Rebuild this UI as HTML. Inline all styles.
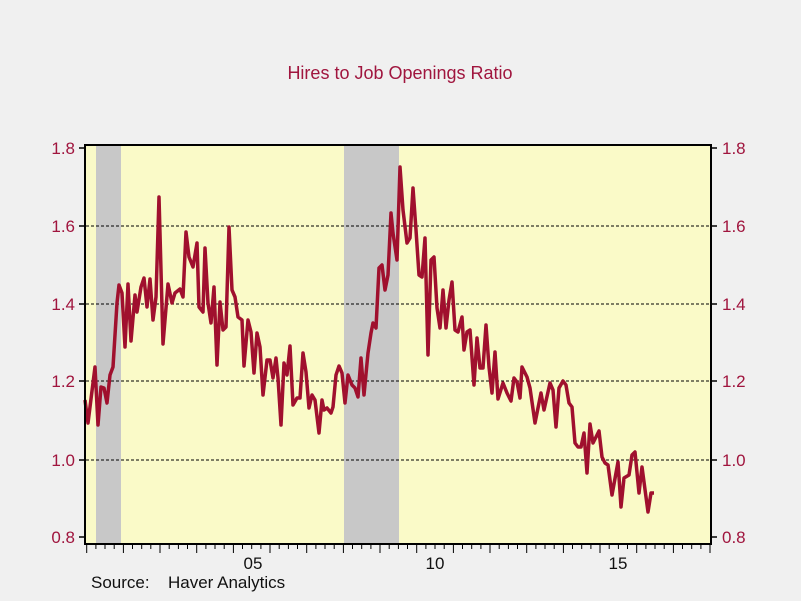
<!DOCTYPE html>
<html><head><meta charset="utf-8"><style>
body{margin:0;background:#f0f0f0}
svg{display:block;font-family:"Liberation Sans",sans-serif}
</style></head><body>
<svg width="801" height="601" viewBox="0 0 801 601">
<rect width="801" height="601" fill="#f0f0f0"/>
<text x="400" y="79" text-anchor="middle" font-size="18" fill="#a0153e">Hires to Job Openings Ratio</text>
<rect x="85" y="145" width="626" height="399" fill="#fafac8"/>
<rect x="96" y="145" width="25" height="399" fill="#c8c8c8"/>
<rect x="344" y="145" width="55" height="399" fill="#c8c8c8"/>
<g stroke="#000" stroke-width="1" stroke-dasharray="3,2">
<line x1="86" x2="710" y1="226" y2="226"/>
<line x1="86" x2="710" y1="304" y2="304"/>
<line x1="86" x2="710" y1="381" y2="381"/>
<line x1="86" x2="710" y1="460" y2="460"/>
</g>
<polyline fill="none" stroke="#a0102e" stroke-width="3.5" stroke-linejoin="round" points="85,400 88,423 95,367 98,425 101,387 104,388 107,403 110,375 113,367 117,303 119,285 122,293 125,347 128,284 131,341 135,295 137,312 141,287 144,278 147,307 150,279 153,320 156,297 159,197 163,344 168,284 172,303 175,293 180,289 183,297 186,232 189,257 193,267 197,243 199,307 203,312 205,248 208,303 211,323 214,287 217,365 220,302 223,330 226,327 229,227 232,290 235,297 238,317 242,320 244,366 248,320 251,332 254,373 257,333 260,347 263,395 267,360 270,360 273,378 276,358 278,378 281,425 284,363 287,375 290,346 293,405 297,398 300,398 303,353 306,372 309,408 312,395 315,400 319,433 322,400 324,410 327,408 331,413 333,407 336,375 339,366 342,373 345,403 348,375 352,385 355,388 358,397 361,358 364,395 368,353 371,333 373,323 376,328 379,268 382,265 385,290 388,275 391,213 393,233 397,260 400,167 403,210 407,243 410,238 413,188 416,230 419,275 422,277 425,238 428,355 431,260 434,257 437,308 440,328 443,290 446,328 449,300 452,282 455,330 458,332 462,317 464,350 467,332 470,330 474,385 477,338 480,368 483,368 486,325 489,367 492,393 495,352 498,399 503,383 507,393 511,401 514,378 517,382 520,398 522,367 527,377 530,388 535,423 541,393 544,410 550,383 553,390 556,427 559,388 563,381 566,385 569,403 572,407 575,443 578,447 581,447 584,433 587,473 590,424 593,443 596,437 599,431 602,457 605,463 608,465 612,495 618,462 621,507 624,478 629,475 632,455 635,452 639,493 642,467 648,512 651,493 654,493"/>
<rect x="85" y="145" width="626" height="399" fill="none" stroke="#000" stroke-width="2"/>
<g stroke="#000" stroke-width="1.5">
<line x1="79" x2="85" y1="148" y2="148"/><line x1="79" x2="85" y1="226" y2="226"/><line x1="79" x2="85" y1="304" y2="304"/><line x1="79" x2="85" y1="381" y2="381"/><line x1="79" x2="85" y1="460" y2="460"/><line x1="79" x2="85" y1="537" y2="537"/>
<line x1="711" x2="717" y1="148" y2="148"/><line x1="711" x2="717" y1="226" y2="226"/><line x1="711" x2="717" y1="304" y2="304"/><line x1="711" x2="717" y1="381" y2="381"/><line x1="711" x2="717" y1="460" y2="460"/><line x1="711" x2="717" y1="537" y2="537"/>
</g>
<g stroke="#000" stroke-width="1">
<path d="M86.7 545v8M123.4 545v8M160 545v8M196.7 545v8M233.4 545v8M270 545v8M306.7 545v8M343.4 545v8M380 545v8M416.7 545v8M453.4 545v8M490 545v8M526.7 545v8M563.4 545v8M600 545v8M636.7 545v8M673.4 545v8M710 545v8"/>
<path d="M95.9 545v4M105 545v4M114.2 545v4M132.5 545v4M141.7 545v4M150.8 545v4M169.2 545v4M178.4 545v4M187.5 545v4M205.9 545v4M215 545v4M224.2 545v4M242.5 545v4M251.7 545v4M260.9 545v4M279.2 545v4M288.4 545v4M297.5 545v4M315.9 545v4M325 545v4M334.2 545v4M352.5 545v4M361.7 545v4M370.9 545v4M389.2 545v4M398.4 545v4M407.5 545v4M425.9 545v4M435 545v4M444.2 545v4M462.5 545v4M471.7 545v4M480.9 545v4M499.2 545v4M508.4 545v4M517.5 545v4M535.9 545v4M545 545v4M554.2 545v4M572.5 545v4M581.7 545v4M590.9 545v4M609.2 545v4M618.4 545v4M627.5 545v4M645.9 545v4M655 545v4M664.2 545v4M682.5 545v4M691.7 545v4M700.9 545v4"/>
</g>
<g font-size="17" fill="#a0153e">
<text x="75" y="154" text-anchor="end">1.8</text><text x="75" y="232" text-anchor="end">1.6</text><text x="75" y="310" text-anchor="end">1.4</text><text x="75" y="387" text-anchor="end">1.2</text><text x="75" y="466" text-anchor="end">1.0</text><text x="75" y="543" text-anchor="end">0.8</text>
<text x="722" y="154">1.8</text><text x="722" y="232">1.6</text><text x="722" y="310">1.4</text><text x="722" y="387">1.2</text><text x="722" y="466">1.0</text><text x="722" y="543">0.8</text>
</g>
<g font-size="17" fill="#111" text-anchor="middle">
<text x="253" y="569">05</text><text x="435" y="569">10</text><text x="618" y="569">15</text>
</g>
<text x="91" y="588" font-size="17" fill="#111">Source:</text>
<text x="168" y="588" font-size="17" fill="#111">Haver Analytics</text>
</svg>
</body></html>
